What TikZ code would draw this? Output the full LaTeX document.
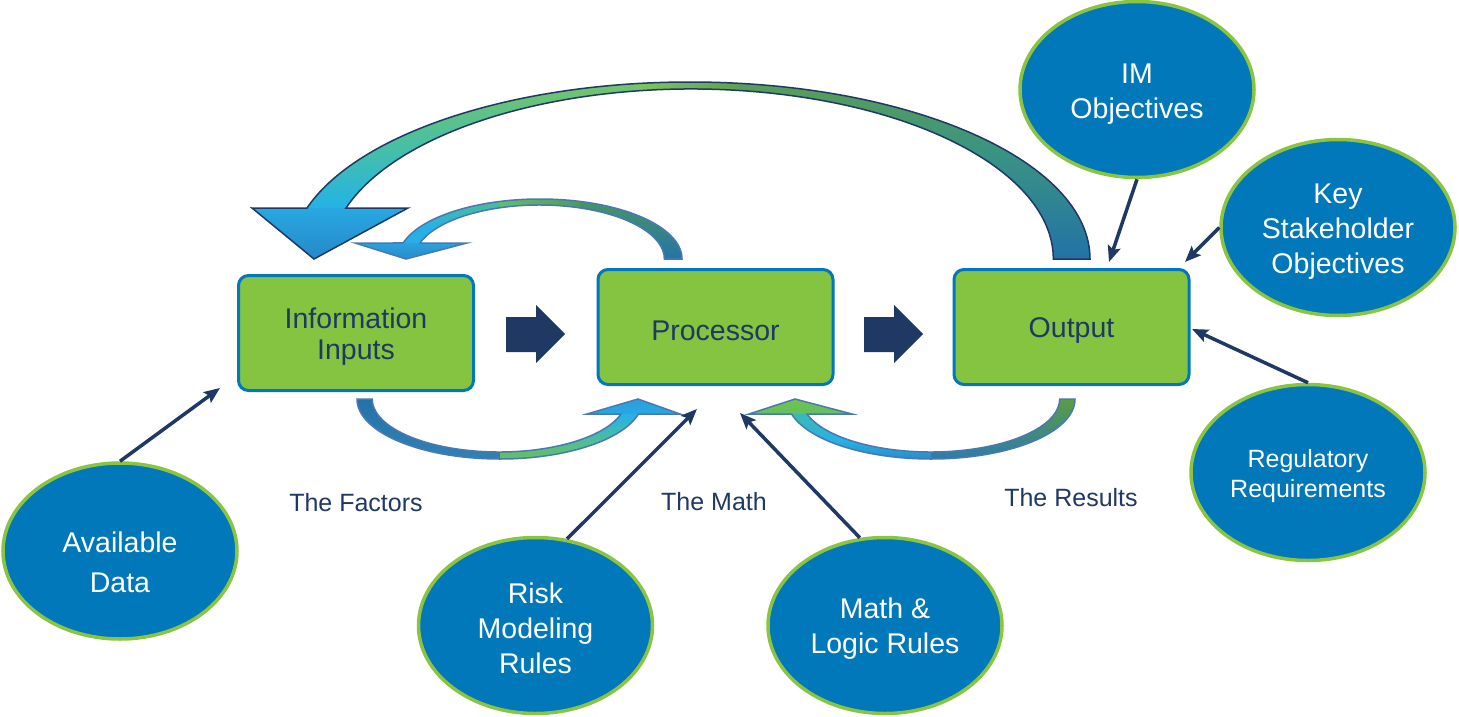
\documentclass[tikz,border=0pt]{standalone}
\usepackage{fontspec}
\setmainfont{Liberation Sans}
\usetikzlibrary{arrows.meta,shapes.geometric}
\definecolor{navy}{HTML}{1F3864}
\definecolor{boxgreen}{HTML}{84C441}
\definecolor{boxblue}{HTML}{0077C0}
\definecolor{ellblue}{HTML}{0078B9}
\definecolor{ellgreen}{HTML}{8BC540}
\definecolor{steel}{HTML}{4A78B0}
\begin{document}
\begin{tikzpicture}[x=1pt,y=-1pt,
  box/.style={draw=boxblue, line width=3pt, fill=boxgreen, rounded corners=10pt,
    minimum width=235pt, minimum height=115pt, inner sep=0pt},
  boxtext/.style={text=navy, font=\fontsize{28.5}{31}\selectfont, align=center, inner sep=0pt},
  ell/.style={ellipse, draw=ellgreen, line width=3.5pt, fill=ellblue,
    minimum width=234pt, minimum height=176pt, inner sep=0pt},
  etext/.style={text=white, font=\fontsize{28.5}{35}\selectfont, align=center, inner sep=0pt},
  lbl/.style={text=navy, font=\fontsize{25}{30}\selectfont},
  thinarrow/.style={draw=navy, line width=3.5pt, -{Stealth[length=16pt,width=13pt,inset=3pt]}},
  blockarrow/.style={fill=navy},
]
\useasboundingbox (0,0) rectangle (1459,717);

% ---------- curved gradient arrows ----------
\def\bigpath{(1090,259) arc[start angle=0, end angle=-163.3, x radius=400, y radius=177]
  -- (252,208) -- (314,259) -- (408,208) -- (346,208)
  arc[start angle=-162.54, end angle=0, x radius=362, y radius=170] -- cycle}
\def\toppath{(682,259) arc[start angle=0, end angle=-164.53, x radius=142, y radius=60]
  -- (355,243) -- (406,259) -- (467,243) -- (420,243)
  arc[start angle=-162.76, end angle=0, x radius=125, y radius=54] -- cycle}
\def\blpath{(357,399) arc[start angle=180, end angle=14.48, x radius=143, y radius=60]
  -- (680,414) -- (638,399) -- (587,414) -- (621,414)
  arc[start angle=16.44, end angle=180, x radius=127, y radius=53] -- cycle}
\def\brpath{(1075,399) arc[start angle=0, end angle=165.52, x radius=144, y radius=60]
  -- (749,414) -- (795,399) -- (852,414) -- (807,414)
  arc[start angle=163.56, end angle=0, x radius=129, y radius=53] -- cycle}

% big arrow: Output -> Information Inputs
\begin{scope}
  \path[clip] \bigpath;
  \shade[top color={rgb,255:red,124;green,197;blue,92}, bottom color={rgb,255:red,69;green,191;blue,168}] (240,70) rectangle (641,150);
  \shade[top color={rgb,255:red,69;green,191;blue,168}, bottom color={rgb,255:red,34;green,179;blue,232}] (240,149.5) rectangle (641,208.5);
  \shade[top color={rgb,255:red,40;green,168;blue,226}, bottom color={rgb,255:red,37;green,133;blue,197}] (240,208) rectangle (641,265);
  \shade[left color={rgb,255:red,124;green,197;blue,92}, right color={rgb,255:red,95;green,160;blue,80}] (640,70) rectangle (741,130);
  \shade[top color={rgb,255:red,95;green,160;blue,80}, bottom color={rgb,255:red,58;green,148;blue,130}] (740,70) rectangle (1100,150);
  \shade[top color={rgb,255:red,58;green,148;blue,130}, bottom color={rgb,255:red,34;green,112;blue,168}] (740,149.5) rectangle (1100,265);
\end{scope}
\draw[navy, line width=1.5pt, line join=miter] \bigpath;

% small top arrow: Processor -> Information Inputs
\begin{scope}
  \path[clip] \toppath;
  \shade[top color={rgb,255:red,98;green,190;blue,112}, bottom color={rgb,255:red,38;green,178;blue,230}] (340,190) rectangle (501,226);
  \shade[top color={rgb,255:red,38;green,178;blue,230}, bottom color={rgb,255:red,39;green,174;blue,230}] (340,225.5) rectangle (501,243.5);
  \shade[top color={rgb,255:red,42;green,162;blue,222}, bottom color={rgb,255:red,37;green,136;blue,200}] (340,243) rectangle (501,262);
  \shade[left color={rgb,255:red,98;green,190;blue,112}, right color={rgb,255:red,77;green,154;blue,92}] (500,190) rectangle (581,215);
  \shade[top color={rgb,255:red,77;green,154;blue,92}, bottom color={rgb,255:red,34;green,114;blue,170}] (580,190) rectangle (700,262);
\end{scope}
\draw[steel, line width=1.5pt] \toppath;

% bottom-left arrow: Information Inputs -> Processor
\begin{scope}
  \path[clip] \blpath;
  \shade[top color={rgb,255:red,34;green,114;blue,170}, bottom color={rgb,255:red,50;green,130;blue,180}] (340,396) rectangle (501,465);
  \shade[top color={rgb,255:red,42;green,158;blue,220}, bottom color={rgb,255:red,40;green,168;blue,226}] (500,396) rectangle (700,414.5);
  \shade[top color={rgb,255:red,36;green,178;blue,232}, bottom color={rgb,255:red,77;green,190;blue,154}] (500,414) rectangle (700,440.5);
  \shade[top color={rgb,255:red,77;green,190;blue,154}, bottom color={rgb,255:red,108;green,192;blue,74}] (500,440) rectangle (700,465);
\end{scope}
\draw[steel, line width=1.5pt] \blpath;

% bottom-right arrow: Output -> Processor
\begin{scope}
  \path[clip] \brpath;
  \shade[top color={rgb,255:red,93;green,158;blue,62}, bottom color={rgb,255:red,40;green,120;blue,181}] (930,396) rectangle (1090,465);
  \shade[top color={rgb,255:red,114;green,196;blue,76}, bottom color={rgb,255:red,98;green,192;blue,96}] (730,396) rectangle (931,414.5);
  \shade[top color={rgb,255:red,60;green,185;blue,181}, bottom color={rgb,255:red,37;green,178;blue,232}] (730,414) rectangle (931,440.5);
  \shade[top color={rgb,255:red,37;green,178;blue,232}, bottom color={rgb,255:red,44;green,127;blue,192}] (730,440) rectangle (931,465);
\end{scope}
\draw[steel, line width=1.5pt] \brpath;

% ---------- boxes ----------
\node[box] (info) at (356,333) {};
\node[box] (proc) at (715.5,327) {};
\node[box] (out)  at (1071.5,327) {};
\node[boxtext] (infoT) at (356,336.5) {Information\\Inputs};
\node[boxtext] (procT) at (715.5,331) {Processor};
\node[boxtext] (outT)  at (1071.5,331) {Output};

% ---------- block arrows ----------
\fill[blockarrow] (506,317) -- (536,317) -- (536,305) -- (565,334) -- (536,363) -- (536,352) -- (506,352) -- cycle;
\fill[blockarrow] (864,317) -- (894,317) -- (894,305) -- (923,334) -- (894,363) -- (894,352) -- (864,352) -- cycle;

% ---------- ellipses ----------
\node[ell] (avail) at (120,551) {};
\node[ell] (risk) at (535.5,625.5) {};
\node[ell] (math) at (885,625.5) {};
\node[ell] (reg) at (1308,472.5) {};
\node[ell] (key) at (1338,227.5) {};
\node[ell] (im) at (1137,89.5) {};
\node[etext, font=\fontsize{28.5}{40}\selectfont] (availT) at (120,562) {Available\\Data};
\node[etext] (riskT) at (535.5,628) {Risk\\Modeling\\Rules};
\node[etext] (mathT) at (885,629) {Math \&\\Logic Rules};
\node[etext, font=\fontsize{25}{30}\selectfont] (regT) at (1308,476.5) {Regulatory\\Requirements};
\node[etext] (keyT) at (1338,232) {Key\\Stakeholder\\Objectives};
\node[etext] (imT) at (1137,94) {IM\\Objectives};

% ---------- labels ----------
\node[lbl] (lf) at (356,503) {The Factors};
\node[lbl] (lm) at (714,502) {The Math};
\node[lbl] (lr) at (1071,498) {The Results};

% ---------- thin arrows ----------
\coordinate (availEnd) at (220,388);
\coordinate (riskEnd) at (697,409);
\coordinate (mathEnd) at (740,413);
\coordinate (imEnd) at (1109,262);
\coordinate (keyEnd) at (1185,262);
\coordinate (regEnd) at (1192,329);
\draw[thinarrow] (avail.90) -- (availEnd);
\draw[thinarrow] (risk.70) -- (riskEnd);
\draw[thinarrow] (math.106) -- (mathEnd);
\draw[thinarrow] (im.270) -- (imEnd);
\draw[thinarrow] (key.180) -- (keyEnd);
\draw[thinarrow] (reg.90) -- (regEnd);
\end{tikzpicture}
\end{document}
